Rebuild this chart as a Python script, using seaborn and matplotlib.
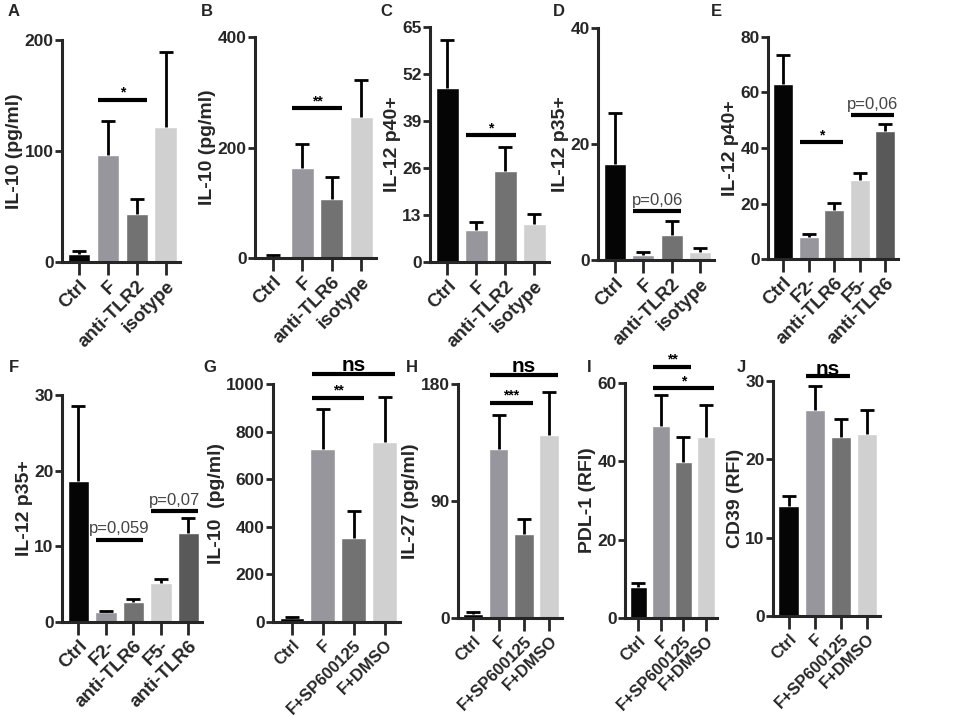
"""
Cytokine / surface marker bar panels (A-J), mean + SEM
"""
import matplotlib
matplotlib.use('Agg')
import matplotlib.pyplot as plt
import numpy as np
import pandas as pd
import seaborn as sns

sns.set_style('ticks')
plt.rcParams['font.family'] = ['Liberation Sans', 'DejaVu Sans']
plt.rcParams['font.weight'] = 'bold'

# Colors
black = '#050505'
gray_f = '#96969c'
gray_dark = '#727272'
gray_light = '#d0d0d0'
gray_darker = '#595959'

# Data
labels_a = ['Ctrl', 'F', 'anti-TLR2', 'isotype']
mean_a = [7, 96, 43, 122]
sem_a = [3, 31, 14, 67]

labels_b = ['Ctrl', 'F', 'anti-TLR6', 'isotype']
mean_b = [3, 163, 106, 255]
sem_b = [2, 44, 40, 68]

labels_c = ['Ctrl', 'F', 'anti-TLR2', 'isotype']
mean_c = [48.1, 8.9, 25.1, 10.4]
sem_c = [13.4, 2.3, 6.7, 2.9]

labels_d = ['Ctrl', 'F', 'anti-TLR2', 'isotype']
mean_d = [16.5, 0.9, 4.3, 1.3]
sem_d = [8.8, 0.4, 2.4, 0.7]

labels_e = ['Ctrl', 'F2-', 'anti-TLR6', 'F5-', 'anti-TLR6 ']
mean_e = [63.2, 7.9, 17.5, 28.5, 46.2]
sem_e = [10.2, 1.1, 2.6, 2.4, 2.4]

labels_f = ['Ctrl', 'F2-', 'anti-TLR6', 'F5-', 'anti-TLR6 ']
mean_f = [18.7, 1.3, 2.6, 5.2, 11.7]
sem_f = [9.8, 0.2, 0.4, 0.5, 2.0]

labels_jnk = ['Ctrl', 'F', 'F+SP600125', 'F+DMSO']
mean_g = [15, 725, 351, 757]
sem_g = [5, 170, 116, 187]

mean_h = [3.3, 130, 64.8, 140.8]
sem_h = [1.1, 26, 11, 33]

mean_i = [7.9, 49.1, 39.9, 46.2]
sem_i = [1.1, 7.9, 6.3, 8.2]

mean_j = [14.0, 26.3, 22.9, 23.2]
sem_j = [1.3, 3.0, 2.2, 3.1]

pal4 = [black, gray_f, gray_dark, gray_light]
pal5 = [black, gray_f, gray_dark, gray_light, gray_darker]

xlabels_e = ['Ctrl', 'F2-', 'anti-TLR6', 'F5-', 'anti-TLR6']

fig = plt.figure(figsize=(9.63, 7.18), dpi=100)
W, H = 963.0, 718.0


def make_ax(left, right, top, bottom):
    return fig.add_axes([left / W, 1 - bottom / H, (right - left) / W, (bottom - top) / H])


def draw_panel(ax, labels, means, sems, palette, ymax, yticks, ylabel, xticklabels=None, xfs=13.5):
    df = pd.DataFrame({'group': labels, 'value': means})
    sns.barplot(data=df, x='group', y='value', hue='group', palette=palette,
                legend=False, width=0.78, saturation=1, ax=ax)
    n = len(labels)
    _, caps, _ = ax.errorbar(np.arange(n), means, yerr=[np.zeros(n), sems], fmt='none',
                             ecolor='k', elinewidth=2, capsize=5, capthick=2, zorder=3)
    caps[0].set_visible(False)  # upper half only
    ax.set_xlim(-0.6, n - 0.5)
    ax.set_ylim(0, ymax)
    ax.set_yticks(yticks)
    ax.set_yticklabels([str(t) for t in yticks], fontsize=12.5, fontweight='bold')
    ax.set_xticks(np.arange(n))
    ax.set_xticklabels(xticklabels if xticklabels else labels, rotation=45, ha='right',
                       rotation_mode='anchor', fontsize=xfs, fontweight='bold')
    ax.set_xlabel('')
    ax.set_ylabel(ylabel, fontsize=14, fontweight='bold', labelpad=1)
    ax.tick_params(axis='y', length=5, width=2, pad=1)
    ax.tick_params(axis='x', length=9, width=2, pad=2)
    for side in ['left', 'bottom']:
        ax.spines[side].set_linewidth(2.2)
    sns.despine(ax=ax)


def sig_line(ax, x0, x1, y, text, color='k', fs=11, weight='bold', dy=0.0):
    ax.plot([x0 - 0.35, x1 + 0.35], [y, y], color='k', lw=3, clip_on=False, solid_capstyle='butt')
    ax.text((x0 + x1) / 2, y + dy, text, ha='center', va='bottom', fontsize=fs,
            fontweight=weight, color=color, clip_on=False)


# A
ax_a = make_ax(62, 180, 40, 262)
draw_panel(ax_a, labels_a, mean_a, sem_a, pal4, 200, [0, 100, 200], 'IL-10 (pg/ml)')
sig_line(ax_a, 1, 2, 146, '*', fs=10)

# B
ax_b = make_ax(255, 376, 37, 258)
draw_panel(ax_b, labels_b, mean_b, sem_b, pal4, 400, [0, 200, 400], 'IL-10 (pg/ml)')
sig_line(ax_b, 1, 2, 271, '**', fs=10)

# C
ax_c = make_ax(430, 549, 27, 262)
draw_panel(ax_c, labels_c, mean_c, sem_c, pal4, 65, [0, 13, 26, 39, 52, 65], 'IL-12 p40+')
sig_line(ax_c, 1, 2, 35, '*', fs=10)

# D
ax_d = make_ax(598, 714, 28, 260)
draw_panel(ax_d, labels_d, mean_d, sem_d, pal4, 40, [0, 20, 40], 'IL-12 p35+')
sig_line(ax_d, 1, 2, 8.5, 'p=0,06', color='#444444', fs=12, weight='normal', dy=0.4)

# E
ax_e = make_ax(768, 898, 37, 259)
draw_panel(ax_e, labels_e, mean_e, sem_e, pal5, 80, [0, 20, 40, 60, 80], 'IL-12 p40+',
           xticklabels=xlabels_e)
sig_line(ax_e, 1, 2, 42, '*', fs=10)
sig_line(ax_e, 3, 4, 52, 'p=0,06', color='#444444', fs=12, weight='normal', dy=1)

# F
ax_f = make_ax(62, 202, 395, 622)
draw_panel(ax_f, labels_f, mean_f, sem_f, pal5, 30, [0, 10, 20, 30], 'IL-12 p35+',
           xticklabels=xlabels_e)
sig_line(ax_f, 1, 2, 10.9, 'p=0,059', color='#444444', fs=12, weight='normal', dy=0.4)
sig_line(ax_f, 3, 4, 14.7, 'p=0,07', color='#444444', fs=12, weight='normal', dy=0.4)

# G
ax_g = make_ax(273, 400, 384, 622)
draw_panel(ax_g, labels_jnk, mean_g, sem_g, pal4, 1000, [0, 200, 400, 600, 800, 1000],
           'IL-10  (pg/ml)', xfs=12)
sig_line(ax_g, 1, 2, 942, '**', fs=10)
sig_line(ax_g, 1, 3, 1042, 'ns', fs=15, weight='bold', dy=-5)

# H
ax_h = make_ax(458, 562, 384, 618)
draw_panel(ax_h, labels_jnk, mean_h, sem_h, pal4, 180, [0, 90, 180], 'IL-27 (pg/ml)', xfs=12)
sig_line(ax_h, 1, 2, 165.6, '***', fs=10)
sig_line(ax_h, 1, 3, 186.8, 'ns', fs=15, weight='bold', dy=-1)

# I
ax_i = make_ax(625, 717, 383, 618)
draw_panel(ax_i, labels_jnk, mean_i, sem_i, pal4, 60, [0, 20, 40, 60], 'PDL-1 (RFI)', xfs=12)
sig_line(ax_i, 1, 3, 58.6, '*', fs=10)
sig_line(ax_i, 1, 2, 64.1, '**', fs=10)

# J
ax_j = make_ax(773, 880, 381, 616)
draw_panel(ax_j, labels_jnk, mean_j, sem_j, pal4, 30, [0, 10, 20, 30], 'CD39 (RFI)', xfs=12)
sig_line(ax_j, 1, 2, 30.6, 'ns', fs=15, weight='bold', dy=-0.3)

# Panel letters
letters = ['A', 'B', 'C', 'D', 'E', 'F', 'G', 'H', 'I', 'J']
letter_x = [14, 207, 386, 559, 716, 14, 210, 412, 589, 741]
letter_y = [12, 12, 12, 12, 12, 368, 368, 368, 368, 368]
for lt, lx, ly in zip(letters, letter_x, letter_y):
    fig.text(lx / W, 1 - ly / H, lt, fontsize=12, fontweight='bold', ha='center', va='center')

fig.savefig('out.png', dpi=100)
